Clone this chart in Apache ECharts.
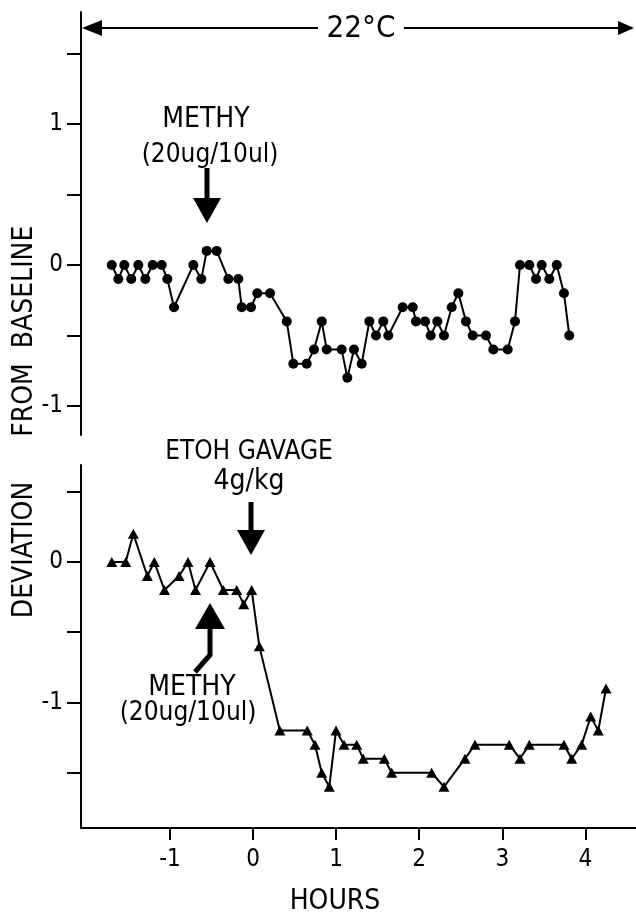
<!DOCTYPE html>
<html><head><meta charset="utf-8">
<script src="https://cdn.jsdelivr.net/npm/echarts@6/dist/echarts.min.js"></script>
<style>html,body{margin:0;padding:0;background:#fff}#c{width:636px;height:917px}</style>
</head><body><div id="c"></div>
<script>
// ---- data (hours relative to ETOH gavage, deviation from baseline) ----
const topHours = [-1.700,-1.621,-1.549,-1.465,-1.380,-1.296,-1.207,-1.099,-1.031,-0.951,
  -0.718,-0.622,-0.557,-0.437,-0.297,-0.177,-0.136,-0.024,0.052,0.205,
  0.406,0.485,0.646,0.734,0.827,0.887,1.067,1.135,1.215,1.308,
  1.400,1.480,1.568,1.628,1.801,1.922,1.961,2.070,2.138,2.218,
  2.298,2.391,2.471,2.563,2.644,2.804,2.892,3.065,3.153,3.213,
  3.325,3.406,3.474,3.566,3.655,3.742,3.806];
const topValues = [0,-0.1,0,-0.1,0,-0.1,0,0,-0.1,-0.3,
  0,-0.1,0.1,0.1,-0.1,-0.1,-0.3,-0.3,-0.2,-0.2,
  -0.4,-0.7,-0.7,-0.6,-0.4,-0.6,-0.6,-0.8,-0.6,-0.7,
  -0.4,-0.5,-0.4,-0.5,-0.3,-0.3,-0.4,-0.4,-0.5,-0.4,
  -0.5,-0.3,-0.2,-0.4,-0.5,-0.5,-0.6,-0.6,-0.4,0,
  0,-0.1,0,-0.1,0,-0.2,-0.5];
const bottomHours = [-1.700,-1.532,-1.440,-1.272,-1.188,-1.065,-0.890,-0.782,-0.692,-0.517,
  -0.357,-0.196,-0.112,-0.016,0.076,0.323,0.653,0.746,0.827,0.918,
  0.999,1.095,1.248,1.327,1.580,1.669,2.150,2.298,2.551,2.671,
  3.084,3.213,3.325,3.742,3.835,3.955,4.064,4.155,4.248];
const bottomValues = [0,0,0.2,-0.1,0,-0.2,-0.1,0,-0.2,0,
  -0.2,-0.2,-0.3,-0.2,-0.6,-1.2,-1.2,-1.3,-1.5,-1.6,
  -1.2,-1.3,-1.3,-1.4,-1.4,-1.5,-1.5,-1.6,-1.4,-1.3,
  -1.3,-1.4,-1.3,-1.3,-1.4,-1.3,-1.1,-1.2,-0.9];
const xTickValues = [-1,0,1,2,3,4];
const topYTickValues = [-1,-0.5,0,0.5,1,1.5];
const topYLabelValues = [-1,0,1];
const bottomYTickValues = [-1.5,-1,-0.5,0,0.5];
const bottomYLabelValues = [-1,0];

const FONT = "'Liberation Sans Narrow','DejaVu Sans Condensed','Liberation Sans',sans-serif";
const INK = '#000';

const chart = echarts.init(document.getElementById('c'), null, {renderer:'canvas'});

function yAxisDef(grid, min, max, ticks, labels){
  return {
    gridIndex: grid, type:'value', min:min, max:max,
    axisLine:{show:true, onZero:false, lineStyle:{color:INK, width:2}},
    axisTick:{show:true, length:14, customValues:ticks, lineStyle:{color:INK, width:2}},
    axisLabel:{show:true, customValues:labels, margin:18, fontSize:24, color:INK, fontFamily:FONT,
      formatter: v => String(v)},
    splitLine:{show:false}
  };
}

const option = {
  animation:false,
  backgroundColor:'#fff',
  grid:[
    {left:81, top:12, width:555, height:423},
    {left:81, top:465, width:555, height:363}
  ],
  xAxis:[
    {gridIndex:0, type:'value', min:-2.07, max:4.609, show:false},
    {gridIndex:1, type:'value', min:-2.07, max:4.609,
      axisLine:{show:true, onZero:false, lineStyle:{color:INK, width:2}},
      axisTick:{show:true, length:12, customValues:xTickValues, lineStyle:{color:INK, width:2}},
      axisLabel:{show:true, customValues:xTickValues, margin:20, fontSize:24, color:INK, fontFamily:FONT},
      splitLine:{show:false}}
  ],
  yAxis:[
    yAxisDef(0, -1.2057, 1.794, topYTickValues, topYLabelValues),
    yAxisDef(1, -1.893, 0.690, bottomYTickValues, bottomYLabelValues)
  ],
  series:[
    {type:'line', xAxisIndex:0, yAxisIndex:0,
      data: topHours.map((h,i)=>[h, topValues[i]]),
      symbol:'circle', symbolSize:10, showAllSymbol:true,
      itemStyle:{color:INK}, lineStyle:{color:INK, width:2}},
    {type:'line', xAxisIndex:1, yAxisIndex:1,
      data: bottomHours.map((h,i)=>[h, bottomValues[i]]),
      symbol:'triangle', symbolSize:[11,10], showAllSymbol:true,
      itemStyle:{color:INK}, lineStyle:{color:INK, width:2}}
  ]
};
chart.setOption(option);

// ---- annotations (pixel layout) ----
function txt(x, y, s, size, rot){
  return {type:'text', x:x, y:y, rotation: rot||0, z:10,
    style:{text:s, fill:INK, font: size+'px '+FONT, textAlign:'center', textVerticalAlign:'middle'}};
}
function poly(points){ return {type:'polygon', z:10, shape:{points:points}, style:{fill:INK}}; }
function pline(points, w){ return {type:'polyline', z:10, shape:{points:points}, style:{stroke:INK, lineWidth:w, fill:null}}; }

const g = [
  // 22°C temperature bar
  pline([[98,28],[318,28]], 2),
  pline([[404,28],[620,28]], 2),
  poly([[82,28],[102,20],[102,36]]),
  poly([[634,28],[618,21],[618,35]]),
  txt(361, 29, '22°C', 31),
  // top METHY
  txt(206, 120, 'METHY', 28),
  txt(210, 155, '(20ug/10ul)', 26),
  pline([[207,168],[207,200]], 5),
  poly([[193,198],[221,198],[207,223]]),
  // ETOH gavage
  txt(249, 452, 'ETOH GAVAGE', 26),
  txt(249, 482, '4g/kg', 28),
  pline([[251,502],[251,532]], 5),
  poly([[237,530],[265,530],[251,555]]),
  // bottom METHY
  poly([[195,629],[225,629],[210,603]]),
  pline([[210,627],[210,655],[195,672]], 5),
  txt(192, 688, 'METHY', 28),
  txt(188, 713, '(20ug/10ul)', 26),
  // axis titles
  txt(25, 287, 'BASELINE', 28, Math.PI/2),
  txt(25, 400, 'FROM', 28, Math.PI/2),
  txt(25, 550, 'DEVIATION', 28, Math.PI/2),
  txt(335, 902, 'HOURS', 28)
];
chart.setOption({graphic: g});
</script>
</body></html>
